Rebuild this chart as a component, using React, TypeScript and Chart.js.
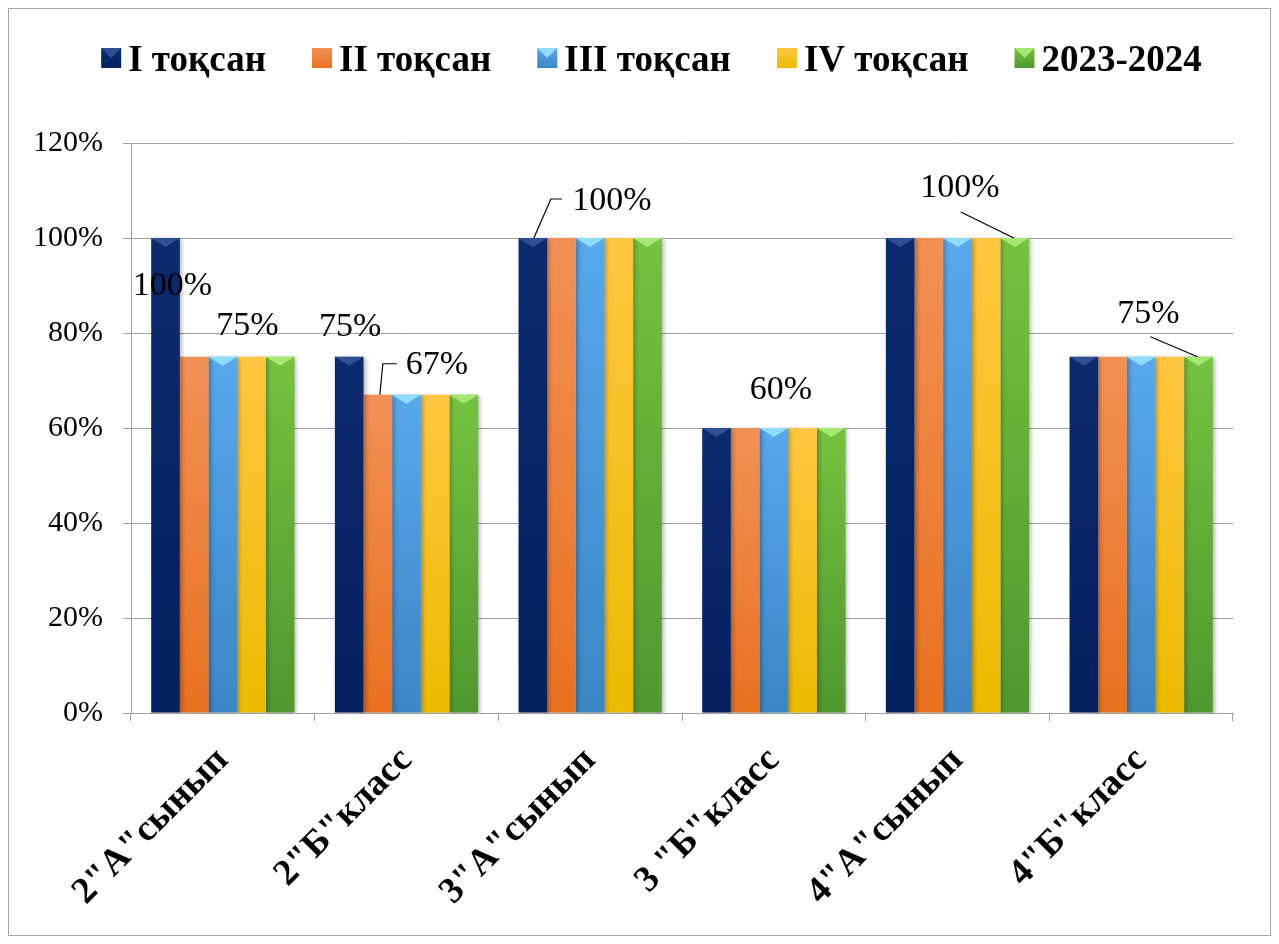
import React, { useEffect, useRef } from "react";
import { Chart, registerables } from "chart.js";

Chart.register(...registerables);

const categories = ['2"А"сынып', '2"Б"класс', '3"А"сынып', '3 "Б"класс', '4"А"сынып', '4"Б"класс'];
const seriesNames = ["I тоқсан", "II тоқсан", "III тоқсан", "IV тоқсан", "2023-2024"];

const quarter1 = [1.0, 0.75, 1.0, 0.6, 1.0, 0.75];
const quarter2 = [0.75, 0.67, 1.0, 0.6, 1.0, 0.75];
const quarter3 = [0.75, 0.67, 1.0, 0.6, 1.0, 0.75];
const quarter4 = [0.75, 0.67, 1.0, 0.6, 1.0, 0.75];
const yearTotal = [0.75, 0.67, 1.0, 0.6, 1.0, 0.75];

const yMin = 0;
const yMax = 1.2;
const yStep = 0.2;

// colours: [top, bottom, highlight]
const seriesColors = [
  ["#0d2a6e", "#04205e", "rgba(80,110,180,0.55)"],
  ["#f29056", "#e8711f", "rgba(255,190,150,0.0)"],
  ["#57a8ec", "#3b86c6", "rgba(150,225,255,0.9)"],
  ["#ffc640", "#ebbb00", "rgba(255,230,150,0.0)"],
  ["#74c23f", "#4f982f", "rgba(170,235,120,0.9)"],
];

// which bars carry a visible value label (offsets are label placement relative to the bar top)
const valueLabels = [
  { cat: 0, ds: 0, dx: 7, dy: 48, leader: null },
  { cat: 0, ds: 3, dx: -4, dy: -31, leader: null },
  { cat: 1, ds: 0, dx: 1, dy: -30, leader: null },
  { cat: 1, ds: 1, dx: 59, dy: -30, leader: [[2, 0], [5, -31], [19, -31]] },
  { cat: 2, ds: 0, dx: 79, dy: -37, leader: [[1, 0], [18, -39], [29, -39]] },
  { cat: 3, ds: 2, dx: 7, dy: -38, leader: null },
  { cat: 4, ds: 4, dx: -55, dy: -50, leader: [[-1, 0], [-54, -26]] },
  { cat: 5, ds: 4, dx: -50, dy: -43, leader: [[-1, 0], [-48, -20]] },
];

const SERIF = '"Liberation Serif", "Times New Roman", serif';
const pct = (v: number) => Math.round(v * 100) + "%";

const allSeries = [quarter1, quarter2, quarter3, quarter4, yearTotal];

const barDecor = {
  id: "barDecor",
  beforeDatasetsDraw(chart: any) {
    const ctx = chart.ctx;
    ctx.save();
    ctx.shadowColor = "rgba(0,0,0,0.28)";
    ctx.shadowBlur = 4;
    ctx.shadowOffsetX = 2;
    ctx.shadowOffsetY = 1;
  },
  afterDatasetsDraw(chart: any) {
    const ctx = chart.ctx;
    ctx.restore();
    ctx.save();
    chart.data.datasets.forEach((_: any, i: number) => {
      const meta = chart.getDatasetMeta(i);
      meta.data.forEach((bar: any) => {
        const w = bar.width;
        ctx.fillStyle = seriesColors[i][2];
        ctx.beginPath();
        ctx.moveTo(bar.x - w / 2, bar.y);
        ctx.lineTo(bar.x + w / 2, bar.y);
        ctx.lineTo(bar.x + w / 2 - 3, bar.y + 2);
        ctx.lineTo(bar.x, bar.y + 9);
        ctx.lineTo(bar.x - w / 2 + 3, bar.y + 2);
        ctx.closePath();
        ctx.fill();
      });
    });
    // value labels
    ctx.font = "34px " + SERIF;
    ctx.fillStyle = "#000";
    ctx.textAlign = "center";
    ctx.textBaseline = "middle";
    ctx.strokeStyle = "#000";
    ctx.lineWidth = 1.2;
    valueLabels.forEach((l) => {
      const bar = chart.getDatasetMeta(l.ds).data[l.cat];
      const v = allSeries[l.ds][l.cat];
      if (l.leader) {
        ctx.beginPath();
        l.leader.forEach((p: number[], k: number) => {
          const px = bar.x + p[0];
          const py = bar.y + p[1];
          if (k === 0) ctx.moveTo(px, py);
          else ctx.lineTo(px, py);
        });
        ctx.stroke();
      }
      ctx.fillText(pct(v), bar.x + l.dx, bar.y + l.dy);
    });
    ctx.restore();
  },
};

const legendPlugin = {
  id: "customLegend",
  afterDraw(chart: any) {
    const ctx = chart.ctx;
    ctx.save();
    ctx.font = "bold 37px " + SERIF;
    const box = 20;
    const gap = 7;
    const spacing = 46;
    const widths = seriesNames.map((n) => ctx.measureText(n).width);
    const total = widths.reduce((a, w) => a + box + gap + w, 0) + spacing * (seriesNames.length - 1);
    let x = (chart.width - total) / 2 + 12;
    const boxTop = 39;
    const baseline = 62;
    ctx.textBaseline = "alphabetic";
    ctx.textAlign = "left";
    seriesNames.forEach((name, i) => {
      const g = ctx.createLinearGradient(0, boxTop, 0, boxTop + box);
      g.addColorStop(0, seriesColors[i][0]);
      g.addColorStop(1, seriesColors[i][1]);
      ctx.fillStyle = g;
      ctx.fillRect(x, boxTop, box, box);
      ctx.fillStyle = seriesColors[i][2];
      ctx.beginPath();
      ctx.moveTo(x, boxTop);
      ctx.lineTo(x + box, boxTop);
      ctx.lineTo(x + box / 2, boxTop + box / 2);
      ctx.closePath();
      ctx.fill();
      ctx.fillStyle = "#000";
      ctx.fillText(name, x + box + gap, baseline);
      x += box + gap + widths[i] + spacing;
    });
    ctx.restore();
  },
};

export default function App() {
  const canvasRef = useRef<HTMLCanvasElement | null>(null);

  useEffect(() => {
    if (!canvasRef.current) return;
    const datasets = allSeries.map((values, i) => ({
      label: seriesNames[i],
      data: values,
      borderWidth: 0,
      barPercentage: 1,
      categoryPercentage: 0.78,
      backgroundColor: (c: any) => {
        const chart = c.chart;
        const area = chart.chartArea;
        if (!area || c.type !== "data") return seriesColors[i][1];
        const y = chart.scales.y;
        const top = y.getPixelForValue(c.raw);
        const bottom = y.getPixelForValue(0);
        if (!isFinite(top) || !isFinite(bottom) || top === bottom) return seriesColors[i][1];
        const g = chart.ctx.createLinearGradient(0, top, 0, bottom);
        g.addColorStop(0, seriesColors[i][0]);
        g.addColorStop(1, seriesColors[i][1]);
        return g;
      },
    }));

    const chart = new Chart(canvasRef.current, {
      type: "bar",
      data: { labels: categories, datasets },
      options: {
        animation: false,
        responsive: true,
        maintainAspectRatio: false,
        layout: { padding: { top: 134, right: 37, left: 0, bottom: 0 } },
        plugins: {
          legend: { display: false },
          tooltip: { enabled: false },
        },
        scales: {
          x: {
            afterFit: (s: any) => {
              s.height = 222;
            },
            grid: {
              display: true,
              drawOnChartArea: false,
              color: "#a0a0a0",
              tickLength: 8,
            },
            border: { color: "#a0a0a0" },
            ticks: {
              minRotation: 45,
              maxRotation: 45,
              padding: 18,
              color: "#000",
              font: { family: SERIF, size: 37, weight: "bold" },
            },
          },
          y: {
            min: yMin,
            max: yMax,
            afterFit: (s: any) => {
              s.width = 122;
            },
            grid: { color: "#a0a0a0", tickLength: 8 },
            border: { color: "#a0a0a0" },
            ticks: {
              stepSize: yStep,
              padding: 20,
              color: "#000",
              font: { family: SERIF, size: 30 },
              callback: (v: any) => pct(Number(v)),
            },
          },
        },
      },
      plugins: [barDecor, legendPlugin],
    });
    return () => chart.destroy();
  }, []);

  return (
    <div
      style={{
        width: "100%",
        height: 928,
        border: "1px solid #a6a6a6",
        boxSizing: "border-box",
        position: "relative",
        background: "#fff",
      }}
    >
      <canvas ref={canvasRef} />
    </div>
  );
}
